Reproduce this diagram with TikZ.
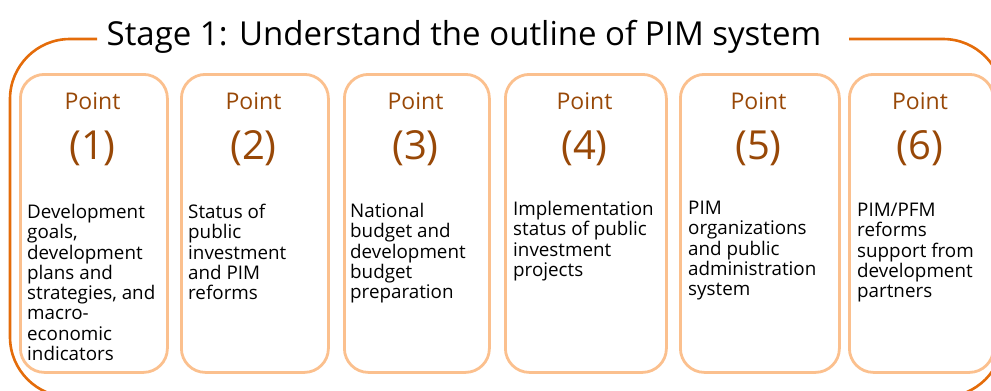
\documentclass[tikz,border=0pt]{standalone}
\usepackage{fontspec}
\setmainfont{Open Sans}
\definecolor{framec}{HTML}{E46C0A}
\definecolor{boxline}{HTML}{FBC08E}
\definecolor{pointc}{HTML}{984807}
\begin{document}
\begin{tikzpicture}[x=1pt,y=-1pt,
  pbox/.style={draw=boxline, line width=2.8pt, rounded corners=24pt, anchor=north west, minimum height=298pt, inner sep=0},
  ptitle/.style={anchor=base, text=pointc, font=\fontsize{23}{23}\selectfont, inner sep=0},
  pnum/.style={anchor=base, text=pointc, font=\fontsize{40}{40}\selectfont, inner sep=0},
  body/.style={anchor=north west, align=left, inner sep=0, font=\fontsize{18.8}{20.3}\selectfont}]
\useasboundingbox (0,0) rectangle (991,391);
\clip (0,0) rectangle (991,391);
% outer frame
\draw[framec, line width=2.6pt, rounded corners=60pt] (97,39) -- (10,39) -- (10,397) -- (1003,397) -- (1003,39) -- (849,39);
\node[anchor=base, inner sep=0, font=\fontsize{33}{33}\selectfont] (title) at (464,45) {Stage 1: Understand the outline of PIM system};
% boxes
\node[pbox, minimum width=147pt] (b1) at (19,73) {};
\node[pbox, minimum width=147pt] (b2) at (180,73) {};
\node[pbox, minimum width=145pt] (b3) at (343,73) {};
\node[pbox, minimum width=161pt] (b4) at (504,73) {};
\node[pbox, minimum width=159pt] (b5) at (679,73) {};
\node[pbox, minimum width=144pt] (b6) at (848,73) {};
% Point labels
\foreach \n/\cx in {1/92.5, 2/253.5, 3/415.5, 4/584.5, 5/758.5, 6/920} {
  \node[ptitle] (p\n) at (\cx,109) {Point};
  \node[pnum] (n\n) at (\cx,159) {(\n)};
}
% body texts
\node[body] (t1) at (27,204) {Development\\goals,\\development\\plans and\\strategies, and\\macro-\\economic\\indicators};
\node[body] (t2) at (188,204) {Status of\\public\\investment\\and PIM\\reforms};
\node[body] (t3) at (350,203) {National\\budget and\\development\\budget\\preparation};
\node[body] (t4) at (513,201) {Implementation\\status of public\\investment\\projects};
\node[body] (t5) at (688,201) {PIM\\organizations\\and public\\administration\\system};
\node[body] (t6) at (857,203) {PIM/PFM\\reforms\\support from\\development\\partners};
\end{tikzpicture}
\end{document}
